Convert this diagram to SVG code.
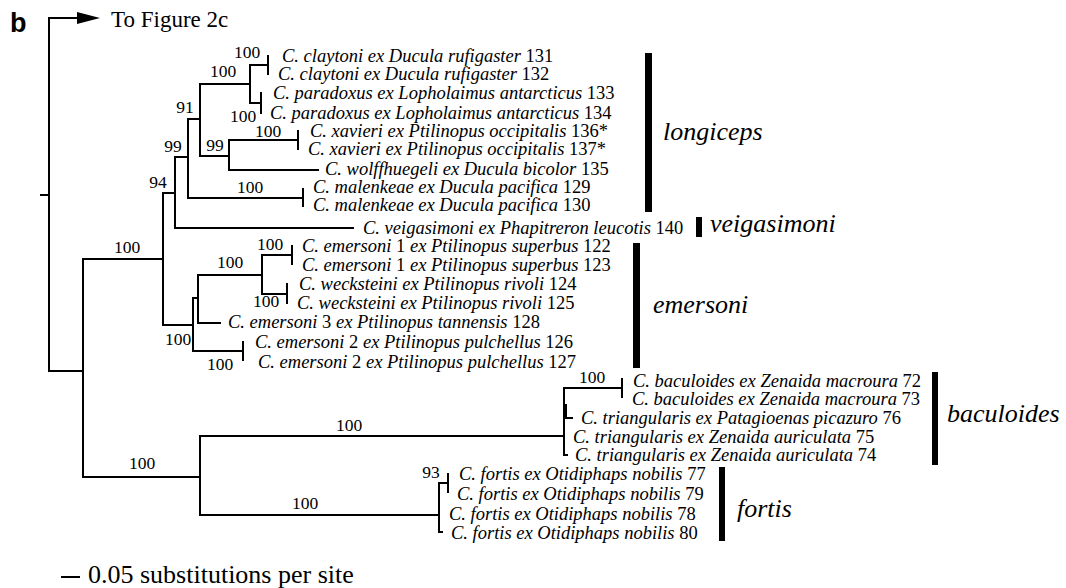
<svg xmlns="http://www.w3.org/2000/svg" width="1066" height="588" viewBox="0 0 1066 588">
<style>
.br{fill:none;stroke:#000;stroke-width:2;stroke-linecap:square}
.t{font-family:"Liberation Serif","Times New Roman",Times,serif;font-size:18.5px;font-style:italic;fill:#000}
.n{font-style:normal}
.bs{font-family:"Liberation Serif","Times New Roman",Times,serif;font-size:17.5px;fill:#000;text-anchor:middle}
.cl{font-family:"Liberation Serif","Times New Roman",Times,serif;font-size:26px;font-style:italic;fill:#000}
.rm{font-family:"Liberation Serif","Times New Roman",Times,serif;fill:#000}
.bar{fill:#000}
</style>
<rect width="1066" height="588" fill="#fff"/>
<text x="10" y="32" font-family="'Liberation Sans',Arial,sans-serif" font-weight="bold" font-size="27">b</text>
<text class="rm" x="111" y="27" font-size="23">To Figure 2c</text>
<g id="connectors">
<path class="br" d="M41,195H49 M49,18V371 M49,18H80 M49,371H83 M83,259V477
M83,259H163 M163,193V325 M163,193H175 M175,157V228 M175,228H353 M175,157H188 M188,119V198 M188,198H303 M303,189V206
M188,119H200 M200,84V156 M200,84H250 M250,65V103 M250,65H268 M268,56V74 M250,103H261 M261,93V113
M200,156H229 M229,140V170 M229,140H298 M298,131V149 M229,170H318
M163,325H193 M193,298V351 M193,298H198 M198,275V323 M198,323H220 M198,275H262 M262,255V294 M262,255H292 M292,246V264 M262,294H287 M287,284V303 M193,351H243 M243,342V360
M83,477H200 M200,436V515 M200,436H564 M564,388V455 M564,388H622 M622,379V397 M566,405V418H572 M564,455H567
M200,515H439 M439,483V532 M439,483H448 M448,474V492 M439,532H442"/>
<polygon points="77,12 100,18 77,24" fill="#000"/>
<path class="br" d="M62,577H79"/>
</g>
<g id="bootstrap">
<text class="bs" x="247" y="58">100</text>
<text class="bs" x="223" y="77">100</text>
<text class="bs" x="243" y="122">100</text>
<text class="bs" x="185" y="113">91</text>
<text class="bs" x="215" y="151">99</text>
<text class="bs" x="268" y="137">100</text>
<text class="bs" x="173" y="152">99</text>
<text class="bs" x="250" y="193">100</text>
<text class="bs" x="158" y="188">94</text>
<text class="bs" x="127" y="253">100</text>
<text class="bs" x="178" y="345">100</text>
<text class="bs" x="230" y="268">100</text>
<text class="bs" x="270" y="250">100</text>
<text class="bs" x="266" y="307">100</text>
<text class="bs" x="220" y="370">100</text>
<text class="bs" x="349" y="431">100</text>
<text class="bs" x="142" y="469">100</text>
<text class="bs" x="305" y="509">100</text>
<text class="bs" x="592" y="383">100</text>
<text class="bs" x="431" y="478">93</text>
</g>
<g id="tip131"><text class="t" x="282" y="62">C. claytoni ex Ducula rufigaster<tspan class="n"> 131</tspan></text></g>
<g id="tip132"><text class="t" x="278" y="80">C. claytoni ex Ducula rufigaster<tspan class="n"> 132</tspan></text></g>
<g id="tip133"><text class="t" x="273" y="99">C. paradoxus ex Lopholaimus antarcticus<tspan class="n"> 133</tspan></text></g>
<g id="tip134"><text class="t" x="270" y="119">C. paradoxus ex Lopholaimus antarcticus<tspan class="n"> 134</tspan></text></g>
<g id="tip136"><text class="t" x="310" y="137">C. xavieri ex Ptilinopus occipitalis<tspan class="n"> 136*</tspan></text></g>
<g id="tip137"><text class="t" x="308" y="155">C. xavieri ex Ptilinopus occipitalis<tspan class="n"> 137*</tspan></text></g>
<g id="tip135"><text class="t" x="325" y="175">C. wolffhuegeli ex Ducula bicolor<tspan class="n"> 135</tspan></text></g>
<g id="tip129"><text class="t" x="313" y="193">C. malenkeae ex Ducula pacifica<tspan class="n"> 129</tspan></text></g>
<g id="tip130"><text class="t" x="313" y="211">C. malenkeae ex Ducula pacifica<tspan class="n"> 130</tspan></text></g>
<g id="tip140"><text class="t" x="363" y="234">C. veigasimoni ex Phapitreron leucotis<tspan class="n"> 140</tspan></text></g>
<g id="tip122"><text class="t" x="302" y="252">C. emersoni<tspan class="n"> 1 </tspan>ex Ptilinopus superbus<tspan class="n"> 122</tspan></text></g>
<g id="tip123"><text class="t" x="302" y="271">C. emersoni<tspan class="n"> 1 </tspan>ex Ptilinopus superbus<tspan class="n"> 123</tspan></text></g>
<g id="tip124"><text class="t" x="299" y="290">C. wecksteini ex Ptilinopus rivoli<tspan class="n"> 124</tspan></text></g>
<g id="tip125"><text class="t" x="297" y="309">C. wecksteini ex Ptilinopus rivoli<tspan class="n"> 125</tspan></text></g>
<g id="tip128"><text class="t" x="228" y="328">C. emersoni<tspan class="n"> 3 </tspan>ex Ptilinopus tannensis<tspan class="n"> 128</tspan></text></g>
<g id="tip126"><text class="t" x="255" y="348">C. emersoni<tspan class="n"> 2 </tspan>ex Ptilinopus pulchellus<tspan class="n"> 126</tspan></text></g>
<g id="tip127"><text class="t" x="258" y="368">C. emersoni<tspan class="n"> 2 </tspan>ex Ptilinopus pulchellus<tspan class="n"> 127</tspan></text></g>
<g id="tip72"><text class="t" x="633" y="387">C. baculoides ex Zenaida macroura<tspan class="n"> 72</tspan></text></g>
<g id="tip73"><text class="t" x="632" y="405">C. baculoides ex Zenaida macroura<tspan class="n"> 73</tspan></text></g>
<g id="tip76"><text class="t" x="581" y="424">C. triangularis ex Patagioenas picazuro<tspan class="n"> 76</tspan></text></g>
<g id="tip75"><text class="t" x="573" y="443">C. triangularis ex Zenaida auriculata<tspan class="n"> 75</tspan></text></g>
<g id="tip74"><text class="t" x="575" y="461">C. triangularis ex Zenaida auriculata<tspan class="n"> 74</tspan></text></g>
<g id="tip77"><text class="t" x="459" y="480">C. fortis ex Otidiphaps nobilis<tspan class="n"> 77</tspan></text></g>
<g id="tip79"><text class="t" x="457" y="500">C. fortis ex Otidiphaps nobilis<tspan class="n"> 79</tspan></text></g>
<g id="tip78"><text class="t" x="449" y="520">C. fortis ex Otidiphaps nobilis<tspan class="n"> 78</tspan></text></g>
<g id="tip80"><text class="t" x="451" y="539">C. fortis ex Otidiphaps nobilis<tspan class="n"> 80</tspan></text></g>
<g id="clade-longiceps"><rect class="bar" x="645" y="53" width="7" height="159"/><text class="cl" x="663" y="140">longiceps</text></g>
<g id="clade-veigasimoni"><rect class="bar" x="696" y="217" width="6" height="20"/><text class="cl" x="710" y="232">veigasimoni</text></g>
<g id="clade-emersoni"><rect class="bar" x="633" y="243" width="7" height="125"/><text class="cl" x="653" y="313">emersoni</text></g>
<g id="clade-baculoides"><rect class="bar" x="932" y="372" width="6" height="93"/><text class="cl" x="947" y="422">baculoides</text></g>
<g id="clade-fortis"><rect class="bar" x="719" y="467" width="6" height="74"/><text class="cl" x="737" y="517">fortis</text></g>
<g id="scale"><text class="rm" x="88" y="583" font-size="26">0.05 substitutions per site</text></g>
</svg>
